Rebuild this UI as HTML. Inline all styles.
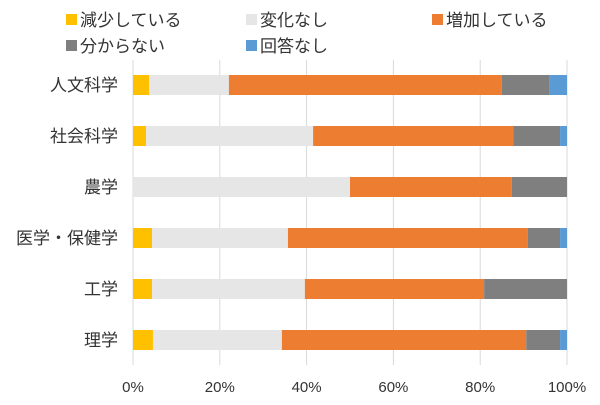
<!DOCTYPE html>
<html><head><meta charset="utf-8"><style>
body{margin:0;background:#fff;}
svg text{font-family:"Liberation Sans","Noto Sans CJK JP",sans-serif;fill:#333;}
</style></head><body>
<svg width="600" height="400" id="c">
</svg>
<script>
const categories=["人文科学","社会科学","農学","医学・保健学","工学","理学"];
const decreasing=[3.7,3.0,0,4.4,4.4,4.6];
const noChange=[18.4,38.5,50,31.3,35.2,29.7];
const increasing=[62.9,46.1,37.3,55.3,41.3,56.3];
const unknown=[11.0,10.8,12.7,7.4,19.1,7.8];
const noAnswer=[4.0,1.6,0,1.6,0,1.6];
const ticks=[0,20,40,60,80,100];
const seriesNames=["減少している","変化なし","増加している","分からない","回答なし"];
const series=[decreasing,noChange,increasing,unknown,noAnswer];
const colors=["#FFC000","#E7E6E6","#ED7D31","#7F7F7F","#5B9BD5"];
const NS="http://www.w3.org/2000/svg";
const svg=document.getElementById('c');
const x0=133,x1=567,plotTop=60,plotBottom=365;
const xs=v=>x0+(x1-x0)*v/100;
const rowH=51,firstC=85;
const yc=i=>firstC+i*rowH;
function mk(t,a){const e=document.createElementNS(NS,t);for(const k in a)e.setAttribute(k,a[k]);svg.appendChild(e);return e;}
ticks.forEach(t=>{
 const g=mk('line',{x1:xs(t),x2:xs(t),y1:plotTop,y2:plotBottom,stroke:'#d9d9d9','stroke-width':1});
 
 
 const l=mk('text',{x:xs(t),y:392,'text-anchor':'middle','font-size':15});
 l.textContent=t+'%';
 
 
});
categories.forEach((c,i)=>{
 const l=mk('text',{x:118,y:yc(i)+6,'text-anchor':'end','font-size':17});
 l.textContent=c;
 
 
 let acc=0;
 series.forEach((s,j)=>{
  const v=s[i];
  if(v>0){
   const r=mk('rect',{x:xs(acc),y:yc(i)-10,width:xs(acc+v)-xs(acc),height:20,fill:colors[j]});
   
   
  }
  acc+=v;
 });
});
const legPos=[[66,20],[246,20],[432,20],[66,46],[246,46]];
seriesNames.forEach((n,j)=>{
 const [lx,ly]=legPos[j];
 const r=mk('rect',{x:lx,y:ly-6,width:11,height:11,fill:colors[j]});
 
 
 const t=mk('text',{x:lx+14,y:ly+6,'font-size':17});
 t.textContent=n;
 
 
});
</script>
</body></html>
